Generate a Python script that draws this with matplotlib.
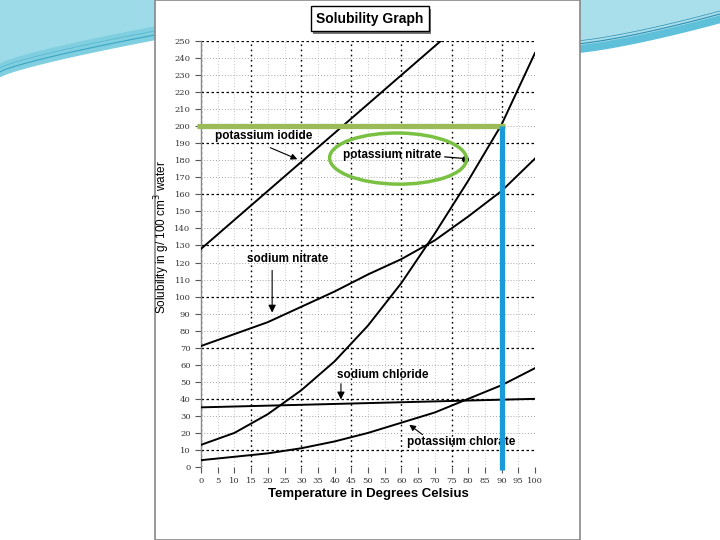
import numpy as np
import matplotlib
matplotlib.use("Agg")
import matplotlib.pyplot as plt
from matplotlib.patches import Rectangle, Ellipse

plt.rcParams['font.family'] = ['Liberation Sans', 'DejaVu Sans']

# 溶解度数据 (g / 100 cm3 水)
temps = [0, 10, 20, 30, 40, 50, 60, 70, 80, 90, 100]
potassium_iodide = [128, 145, 162, 179, 196, 213, 230, 247, 264, 281, 298]
potassium_nitrate = [13, 20, 31, 45, 62, 83, 108, 137, 168, 201, 243]
sodium_nitrate = [71, 78, 85, 94, 103, 113, 122, 133, 147, 162, 181]
sodium_chloride = [35, 35.5, 36, 36.5, 37, 37.5, 38, 38.5, 39, 39.5, 40]
potassium_chlorate = [4, 6, 8, 11, 15, 20, 26, 32, 40, 48, 58]

x_ticks = list(range(0, 101, 5))
y_ticks = list(range(0, 251, 10))

fig = plt.figure(figsize=(7.2, 5.4), dpi=100)

# 背景 (幻灯片)
bg = fig.add_axes([0, 0, 1, 1])
bg.set_xlim(0, 720)
bg.set_ylim(540, 0)
bg.axis('off')

# 左上角蓝色波浪
xl = np.linspace(0, 160, 50)
yl = 76 - 38 * (xl / 160) ** 0.8
bg.fill_between(xl, 0, yl, color='#7fcfe0', zorder=0)
bg.fill_between(xl, 0, yl - 14, color='#9edbe8', zorder=0)
bg.plot(xl, yl - 4, color='#3aa6c4', lw=0.8, zorder=1)
bg.plot(xl, yl - 8, color='#5bb8d0', lw=0.6, zorder=1)

# 右上角蓝色波浪
xr = np.linspace(575, 720, 50)
yr = 52 - 30 * ((xr - 575) / 145) ** 1.3
bg.fill_between(xr, 0, yr, color='#5fc0da', zorder=0)
bg.fill_between(xr, 0, yr - 8, color='#a9dfea', zorder=0)
bg.plot(xr, yr - 8, color='#2f8fb5', lw=0.8, zorder=1)
bg.plot(xr, yr - 11, color='#2f8fb5', lw=0.5, zorder=1)

# 图纸
bg.add_patch(Rectangle((155, 0), 425, 540, facecolor='white',
                       edgecolor='#888888', lw=1.2, zorder=2))

# 标题框
bg.add_patch(Rectangle((313, 9), 118, 25, facecolor='#777777', lw=0, zorder=3))
bg.add_patch(Rectangle((311, 6), 118, 25, facecolor='white',
                       edgecolor='black', lw=1.0, zorder=4))
bg.text(370, 19, 'Solubility Graph', ha='center', va='center',
        fontsize=10, fontweight='bold', zorder=5)

# 主图
ax = fig.add_axes([201 / 720, 1 - 467 / 540, 334 / 720, 426 / 540])
ax.set_facecolor('none')
ax.set_xlim(0, 100)
ax.set_ylim(0, 250)

for t in x_ticks:
    if t % 15 == 0:
        ax.axvline(t, color='black', ls=(0, (1.2, 2.5)), lw=1.0, zorder=1)
    else:
        ax.axvline(t, color='#999999', ls=(0, (1, 3)), lw=0.5, zorder=1)
for s in y_ticks:
    if s % 30 == 10:
        ax.axhline(s, color='black', ls=(0, (2, 2)), lw=0.9, zorder=1)
    else:
        ax.axhline(s, color='#888888', ls=(0, (1, 2.5)), lw=0.6, zorder=1)

for vals in [potassium_iodide, potassium_nitrate, sodium_nitrate,
             sodium_chloride, potassium_chlorate]:
    ax.plot(temps, vals, color='black', lw=1.4, zorder=3)

for side in ['top', 'right', 'bottom']:
    ax.spines[side].set_visible(False)
ax.spines['left'].set_color('#888888')
ax.spines['left'].set_linewidth(1.0)

ax.set_xticks(x_ticks)
ax.set_yticks(y_ticks)
ax.tick_params(axis='both', direction='out', length=4, width=0.8,
               color='#555555', labelsize=6, labelcolor='#333333')
ax.tick_params(axis='x', pad=3)
for lab in ax.get_xticklabels() + ax.get_yticklabels():
    lab.set_family('DejaVu Serif')

ax.set_xlabel('Temperature in Degrees Celsius', fontsize=9.5,
              fontweight='bold', labelpad=2)
ax.set_ylabel('Solubility in g/ 100 cm$^3$ water', fontsize=8.5)
ax.yaxis.set_label_coords(-0.088, 0.54)

# 标注
lab_kw = dict(fontsize=8.5, fontweight='bold', ha='left', va='center', zorder=6)
ax.text(4.2, 194, 'potassium iodide', **lab_kw)
ax.annotate('', xy=(29.6, 180), xytext=(20, 188),
            arrowprops=dict(arrowstyle='-|>', color='black', lw=0.8,
                            mutation_scale=9))
ax.text(42.5, 183, 'potassium nitrate', **lab_kw)
ax.plot([73, 79], [182, 181], color='black', lw=0.9, zorder=6)
ax.plot([79], [181], 'o', color='black', ms=4, zorder=6)
ax.text(13.8, 122, 'sodium nitrate', **lab_kw)
ax.annotate('', xy=(21.3, 89), xytext=(21.3, 117),
            arrowprops=dict(arrowstyle='-|>', color='black', lw=0.8,
                            mutation_scale=11))
ax.text(40.7, 54, 'sodium chloride', **lab_kw)
ax.annotate('', xy=(41.9, 38), xytext=(41.9, 50.5),
            arrowprops=dict(arrowstyle='-|>', color='black', lw=0.8,
                            mutation_scale=11))
ax.text(61.7, 14.5, 'potassium chlorate', **lab_kw)
ax.annotate('', xy=(61.7, 25.8), xytext=(67, 18),
            arrowprops=dict(arrowstyle='-|>', color='black', lw=0.8,
                            mutation_scale=9))

# 手绘标记
ax.plot([-1.2, 91], [200, 200], color='#9bbb59', lw=3.8, zorder=7,
        solid_capstyle='butt', clip_on=False)
ax.plot([90, 90], [200, -2], color='#1a9ad6', lw=3.8, zorder=7,
        solid_capstyle='butt', clip_on=False)
ax.add_patch(Ellipse((59, 181), 41, 30, angle=-2, fill=False,
                     edgecolor='#7ac143', lw=2.5, zorder=7))

fig.savefig('out.png', dpi=100)
